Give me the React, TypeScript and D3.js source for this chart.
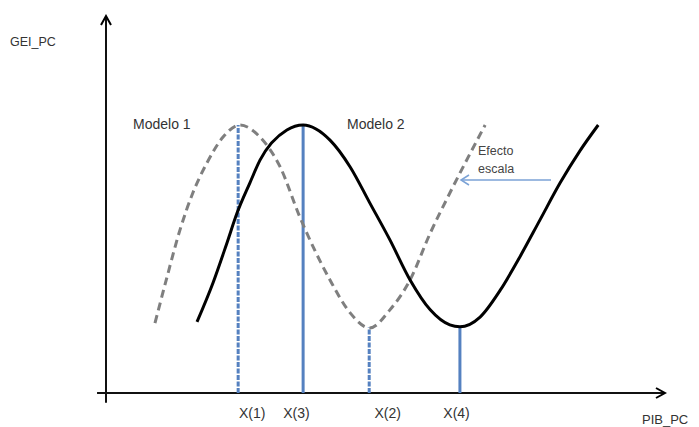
import * as d3 from 'd3'

// Curve points (PIB_PC, GEI_PC in arbitrary 0-100 units)
const modelo1X = [8.75, 10.9, 13.2, 15.5, 18.0, 20.9, 23.9, 27.5, 31.1, 34.6, 40.0, 43.6, 47.1, 50.7, 54.3, 57.9, 61.4, 67.7]
const modelo1Y = [18.5, 30.7, 43.1, 52.9, 60.8, 67.7, 70.9, 67.7, 59.8, 46.6, 29.9, 21.2, 17.2, 22.0, 29.9, 42.3, 52.9, 70.9]

const modelo2X = [16.25, 19.1, 21.6, 23.4, 25.7, 27.5, 32.3, 35.2, 40.0, 43.6, 47.1, 50.7, 54.3, 57.9, 61.4, 63.2, 66.8, 70.4, 73.9, 77.5, 81.1, 84.6, 87.9]
const modelo2Y = [18.8, 29.1, 39.7, 47.6, 55.6, 61.6, 69.6, 70.9, 66.9, 59.8, 50.3, 40.5, 29.9, 22.0, 18.0, 17.5, 20.1, 27.2, 36.0, 45.8, 55.6, 64.0, 70.9]

// Reference markers on the PIB axis
const markerLabels = ['X(1)', 'X(3)', 'X(2)', 'X(4)']
const markerX = [23.6, 35.2, 47.0, 63.2]
const markerTop = [70.9, 70.9, 17.3, 17.5]
const markerDashed = [true, false, true, false]
const markerLabelX = [26.1, 34.0, 50.3, 62.6]

const W = 699
const H = 427
const font = 'Liberation Sans, Arial, sans-serif'

export default function App() {
  const x = d3.scaleLinear().domain([0, 100]).range([106, 666])
  const y = d3.scaleLinear().domain([0, 100]).range([393, 15])

  const line = d3.line<[number, number]>()
    .x(d => x(d[0]))
    .y(d => y(d[1]))
    .curve(d3.curveMonotoneX)

  const m1 = modelo1X.map((v, i) => [v, modelo1Y[i]] as [number, number])
  const m2 = modelo2X.map((v, i) => [v, modelo2Y[i]] as [number, number])

  const blue = '#5581c0'
  const lightBlue = '#7ba2d6'

  return (
    <svg width={W} height={H} style={{ position: 'absolute', left: 0, top: 0, background: '#fff' }}>
      <defs>
        <marker id="open-arrow" viewBox="0 0 12 12" refX="10" refY="6" markerWidth="12" markerHeight="12" markerUnits="userSpaceOnUse" orient="auto">
          <path d="M1,1 L10,6 L1,11" fill="none" stroke="#000" strokeWidth={2} />
        </marker>
        <marker id="blue-arrow" viewBox="0 0 12 12" refX="10" refY="6" markerWidth="12" markerHeight="12" markerUnits="userSpaceOnUse" orient="auto">
          <path d="M2,1 L10,6 L2,11" fill="none" stroke={lightBlue} strokeWidth={1.5} />
        </marker>
      </defs>

      {/* axes */}
      <line x1={x(0)} y1={y(-2.6)} x2={x(0)} y2={y(100) + 1} stroke="#111" strokeWidth={2} markerEnd="url(#open-arrow)" />
      <line x1={x(-1.6)} y1={y(0)} x2={x(100) - 1} y2={y(0)} stroke="#111" strokeWidth={2} markerEnd="url(#open-arrow)" />

      <text x={10} y={46} fontFamily={font} fontSize={12.5} fill="#333">GEI_PC</text>
      <text x={642} y={424} fontFamily={font} fontSize={13} fill="#333">PIB_PC</text>

      {/* vertical markers */}
      {markerX.map((mx, i) => (
        <line key={markerLabels[i]} x1={x(mx)} x2={x(mx)} y1={y(0)} y2={y(markerTop[i])}
          stroke={blue} strokeWidth={3} strokeDasharray={markerDashed[i] ? '5,1.5' : undefined} />
      ))}
      {markerLabels.map((lab, i) => (
        <text key={lab} x={x(markerLabelX[i])} y={418} textAnchor="middle" fontFamily={font} fontSize={14} fill="#333">{lab}</text>
      ))}

      {/* curves */}
      <path d={line(m1) ?? ''} fill="none" stroke="#7f7f7f" strokeWidth={3} strokeDasharray="8,5" />
      <path d={line(m2) ?? ''} fill="none" stroke="#000" strokeWidth={3} />

      <text x={133} y={129} fontFamily={font} fontSize={14} fill="#333">Modelo 1</text>
      <text x={347} y={129} fontFamily={font} fontSize={14} fill="#333">Modelo 2</text>

      <text x={478} y={155} fontFamily={font} fontSize={12.5} fill="#444">Efecto</text>
      <text x={478} y={173} fontFamily={font} fontSize={12.5} fill="#444">escala</text>
      <line x1={551} y1={180} x2={461} y2={180} stroke={lightBlue} strokeWidth={1.5} markerEnd="url(#blue-arrow)" />
    </svg>
  )
}
